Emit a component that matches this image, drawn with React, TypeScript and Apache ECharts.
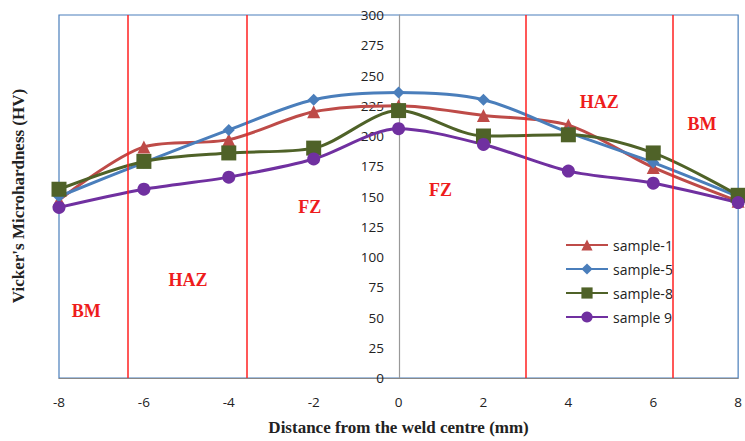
import React, { useEffect, useRef } from "react";
import * as echarts from "echarts";

const distances = [-8, -6, -4, -2, 0, 2, 4, 6, 8];
const sample1 = [147, 191, 197, 220, 225, 217, 209, 174, 146];
const sample5 = [150, 178, 205, 230, 236, 230, 203, 178, 150];
const sample8 = [156, 179, 186, 190, 221, 200, 201, 186, 151];
const sample9 = [141, 156, 166, 181, 206, 193, 171, 161, 145];
const zoneBoundaries = [-6.38, -3.58, 2.99, 6.45];
const zoneLabels = [
  { name: "BM", x: -7.36, y: 55 },
  { name: "HAZ", x: -4.96, y: 81 },
  { name: "FZ", x: -2.09, y: 141 },
  { name: "FZ", x: 0.99, y: 155 },
  { name: "HAZ", x: 4.73, y: 228 },
  { name: "BM", x: 7.15, y: 210 },
];
const yTicks = { min: 0, max: 300, interval: 25 };
const xTicks = { min: -8, max: 8, interval: 2 };

const pair = (ys: number[]) => distances.map((x, i) => [x, ys[i]]);

export default function App() {
  const ref = useRef<HTMLDivElement>(null);
  useEffect(() => {
    document.body.style.margin = "0";
    const chart = echarts.init(ref.current!, null, { renderer: "svg" });
    const serif = "'Liberation Serif', 'Times New Roman', serif";
    const sans = "'Open Sans', 'Liberation Sans', Arial, sans-serif";
    const mk = (name: string, data: number[], color: string, symbol: string, size: number, extra: any = {}) => ({
      name,
      type: "line",
      data: pair(data),
      smooth: 0.3,
      symbol,
      symbolSize: size,
      lineStyle: { color, width: 3 },
      itemStyle: { color },
      ...extra,
    });
    chart.setOption({
      animation: false,
      grid: {
        left: 59,
        right: 6,
        top: 15,
        bottom: 63,
        show: true,
        borderColor: "#4a7ebb",
        borderWidth: 1.2,
      },
      legend: {
        orient: "vertical",
        left: 560,
        top: 233,
        itemWidth: 42,
        itemHeight: 14,
        itemGap: 10,
        textStyle: { fontFamily: sans, fontSize: 14, color: "#222" },
        data: ["sample-1", "sample-5", "sample-8", "sample 9"],
      },
      xAxis: {
        type: "value",
        min: xTicks.min,
        max: xTicks.max,
        interval: xTicks.interval,
        name: "Distance from the weld centre (mm)",
        nameLocation: "middle",
        nameGap: 41,
        nameTextStyle: { fontFamily: serif, fontWeight: "bold", fontSize: 17, color: "#222" },
        axisLine: { lineStyle: { color: "#888", width: 1.2 } },
        axisTick: { show: false },
        axisLabel: { fontFamily: sans, fontSize: 13.5, color: "#222", margin: 17 },
        splitLine: { show: false },
      },
      yAxis: {
        type: "value",
        min: yTicks.min,
        max: yTicks.max,
        interval: yTicks.interval,
        offset: -340,
        axisLine: { onZero: false, lineStyle: { color: "#999", width: 1.2 } },
        axisTick: { show: false },
        axisLabel: { fontFamily: sans, fontSize: 13.5, color: "#222", margin: 15 },
        splitLine: { show: false },
      },
      graphic: [
        {
          type: "text",
          x: 18,
          y: 196,
          rotation: Math.PI / 2,
          style: {
            text: "Vicker's Microhardness (HV)",
            fontFamily: serif,
            fontWeight: "bold",
            fontSize: 17,
            fill: "#222",
            align: "center",
            verticalAlign: "middle",
          },
        },
      ],
      series: [
        mk("sample-1", sample1, "#be4b48", "triangle", 13, {
          markLine: {
            silent: true,
            symbol: ["none", "none"],
            label: { show: false },
            lineStyle: { color: "#ff2020", width: 1.5, type: "solid" },
            data: zoneBoundaries.map((x) => ({ xAxis: x })),
          },
          markPoint: {
            silent: true,
            symbol: "circle",
            symbolSize: 0,
            label: {
              show: true,
              position: "inside",
              formatter: (p: any) => p.name,
              fontFamily: serif,
              fontWeight: "bold",
              fontSize: 18,
              color: "#ee1c1c",
            },
            data: zoneLabels.map((z) => ({ name: z.name, coord: [z.x, z.y] })),
          },
        }),
        mk("sample-5", sample5, "#4a7ebb", "diamond", 12),
        mk("sample-8", sample8, "#4f6228", "rect", 15),
        mk("sample 9", sample9, "#7030a0", "circle", 13),
      ],
    });
    return () => chart.dispose();
  }, []);
  return <div ref={ref} style={{ width: 745, height: 441 }} />;
}
